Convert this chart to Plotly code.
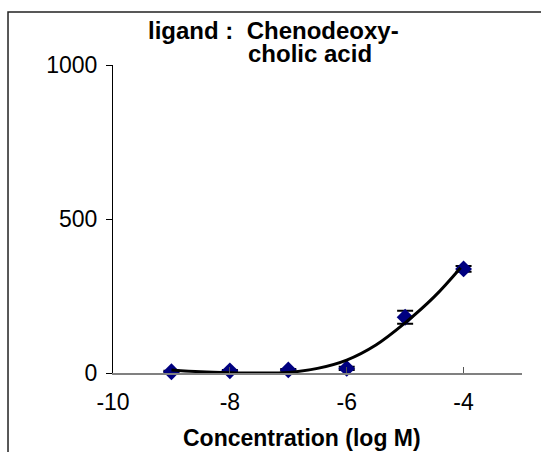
import plotly.graph_objects as go

# Data
conc_log = [-9, -8, -7, -6, -5, -4]
response = [4, 7, 10, 15, 181, 338]
response_err = [3, 3, 3, 5, 21, 9]

fit_x = [-9, -8.5, -8, -7.5, -7, -6.5, -6, -5.5, -5, -4.5, -4.05]
fit_y = [10, 4, 1, 0, 2, 15, 42, 91, 163, 248, 342]

x_ticks = [-10, -8, -6, -4]
x_tick_text = ["-10", "-8", "-6", "-4"]
y_ticks = [0, 500, 1000]
y_tick_text = ["0", "500", "1000"]

title_line1 = "ligand :  Chenodeoxy-"
title_line2 = "cholic acid"
x_title = "Concentration (log M)"

FONT = "Liberation Sans, Arial, sans-serif"

fig = go.Figure()

fig.add_trace(go.Scatter(
    x=conc_log, y=response,
    mode="markers",
    marker=dict(symbol="diamond", size=13, color="#000080",
                line=dict(width=0)),
    error_y=dict(type="data", array=response_err, visible=True,
                 color="black", thickness=2, width=8),
    cliponaxis=False,
    showlegend=False,
))

fig.add_trace(go.Scatter(
    x=fit_x, y=fit_y,
    mode="lines",
    line=dict(color="black", width=3, shape="spline", smoothing=1),
    cliponaxis=False,
    showlegend=False,
))

fig.update_layout(
    width=541, height=452,
    margin=dict(l=113, r=19, t=65, b=79, pad=0),
    paper_bgcolor="white", plot_bgcolor="white",
    font=dict(family=FONT, size=23, color="black"),
    xaxis=dict(
        range=[-10, -3], tickvals=x_ticks, ticktext=x_tick_text,
        ticks="inside", ticklen=6,
        tickcolor="#555555", tickwidth=1,
        showline=True, linecolor="#808080", linewidth=1.5,
        showgrid=False, zeroline=False,
        tickfont=dict(family=FONT, size=23, color="black"),
        ticklabelstandoff=8,
    ),
    yaxis=dict(
        range=[0, 1000], tickvals=y_ticks, ticktext=y_tick_text,
        ticks="outside", ticklen=6,
        tickcolor="black", tickwidth=1,
        showline=True, linecolor="black", linewidth=1,
        showgrid=False, zeroline=False,
        tickfont=dict(family=FONT, size=23, color="black"),
        ticklabelstandoff=4,
    ),
    shapes=[dict(type="rect", xref="paper", yref="paper",
                 x0=-0.2567, x1=1.06, y0=-0.30, y1=1.172,
                 line=dict(color="#222222", width=1.5), layer="below")],
    annotations=[
        dict(text="<b>" + title_line1 + "</b>", xref="paper", yref="paper",
             x=(273 - 113) / 409, y=(373 - 31) / 308, xanchor="center", yanchor="middle",
             showarrow=False, font=dict(family=FONT, size=24, color="black")),
        dict(text="<b>" + title_line2 + "</b>", xref="paper", yref="paper",
             x=(310 - 113) / 409, y=(373 - 53) / 308, xanchor="center", yanchor="middle",
             showarrow=False, font=dict(family=FONT, size=24, color="black")),
        dict(text="<b>" + x_title + "</b>", xref="paper", yref="paper",
             x=(302 - 113) / 409, y=-0.211, xanchor="center", yanchor="middle",
             showarrow=False, font=dict(family=FONT, size=23, color="black")),
    ],
)

fig.write_html("out.html")
